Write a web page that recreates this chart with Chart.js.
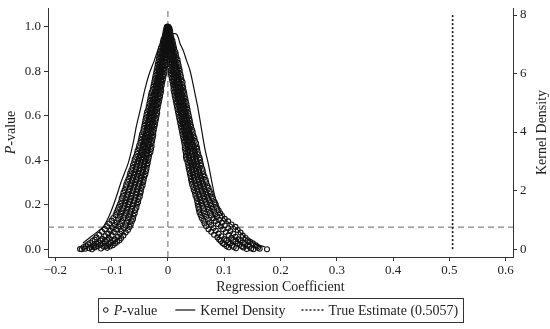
<!DOCTYPE html>
<html>
<head>
<meta charset="utf-8">
<script src="https://cdn.jsdelivr.net/npm/chart.js@4.4.1/dist/chart.umd.min.js"></script>
<style>
  html, body { margin: 0; padding: 0; background: #fff; }
  #wrap { width: 550px; height: 329px; }
</style>
</head>
<body>
<div id="wrap"><canvas id="chart" width="550" height="329"></canvas></div>
<script>
// P-value of each placebo regression: [coefficient, p-value]
const pvalPoints = [
  // left branch
  [-0.002, 0.998], [-0.001, 1.000], [0.000, 0.995],
  [-0.004, 0.978], [-0.003, 0.971], [-0.001, 0.980], [0.000, 0.969],
  [-0.006, 0.953], [-0.004, 0.946], [-0.003, 0.955], [-0.001, 0.944], [0.000, 0.951],
  [-0.009, 0.929], [-0.007, 0.921], [-0.005, 0.927], [-0.003, 0.919], [-0.001, 0.924],
  [-0.012, 0.904], [-0.009, 0.896], [-0.007, 0.903], [-0.004, 0.894], [-0.002, 0.901],
  [-0.014, 0.879], [-0.011, 0.871], [-0.008, 0.877], [-0.006, 0.870], [-0.003, 0.876],
  [-0.016, 0.854], [-0.013, 0.846], [-0.010, 0.852], [-0.007, 0.845], [-0.004, 0.851],
  [-0.018, 0.829], [-0.015, 0.821], [-0.011, 0.827], [-0.008, 0.820], [-0.005, 0.826],
  [-0.020, 0.804], [-0.016, 0.796], [-0.013, 0.803], [-0.010, 0.795], [-0.006, 0.801],
  [-0.022, 0.779], [-0.018, 0.771], [-0.015, 0.778], [-0.012, 0.770], [-0.008, 0.776],
  [-0.024, 0.754], [-0.020, 0.746], [-0.017, 0.752], [-0.013, 0.745], [-0.010, 0.751],
  [-0.026, 0.729], [-0.022, 0.721], [-0.019, 0.727], [-0.015, 0.720], [-0.012, 0.726],
  [-0.029, 0.704], [-0.025, 0.696], [-0.021, 0.703], [-0.017, 0.695], [-0.013, 0.701],
  [-0.031, 0.679], [-0.027, 0.671], [-0.023, 0.678], [-0.019, 0.670], [-0.015, 0.676],
  [-0.033, 0.654], [-0.029, 0.646], [-0.025, 0.652], [-0.021, 0.645], [-0.017, 0.651],
  [-0.035, 0.629], [-0.031, 0.621], [-0.027, 0.627], [-0.023, 0.620], [-0.019, 0.626],
  [-0.038, 0.604], [-0.033, 0.596], [-0.029, 0.603], [-0.025, 0.595], [-0.020, 0.601],
  [-0.040, 0.579], [-0.035, 0.571], [-0.031, 0.578], [-0.027, 0.570], [-0.022, 0.576],
  [-0.042, 0.554], [-0.037, 0.546], [-0.033, 0.552], [-0.029, 0.545], [-0.024, 0.551],
  [-0.044, 0.529], [-0.039, 0.521], [-0.035, 0.527], [-0.030, 0.520], [-0.026, 0.526],
  [-0.047, 0.504], [-0.042, 0.496], [-0.037, 0.503], [-0.032, 0.495], [-0.027, 0.501],
  [-0.049, 0.479], [-0.044, 0.471], [-0.039, 0.478], [-0.034, 0.470], [-0.029, 0.476],
  [-0.052, 0.454], [-0.046, 0.446], [-0.041, 0.452], [-0.036, 0.445], [-0.030, 0.451],
  [-0.055, 0.429], [-0.049, 0.421], [-0.044, 0.427], [-0.038, 0.420], [-0.033, 0.426],
  [-0.059, 0.404], [-0.053, 0.396], [-0.047, 0.403], [-0.041, 0.395], [-0.035, 0.401],
  [-0.062, 0.379], [-0.056, 0.371], [-0.049, 0.378], [-0.043, 0.370], [-0.037, 0.376],
  [-0.065, 0.354], [-0.058, 0.346], [-0.052, 0.352], [-0.045, 0.345], [-0.039, 0.351],
  [-0.068, 0.329], [-0.062, 0.321], [-0.055, 0.327], [-0.048, 0.320], [-0.042, 0.326],
  [-0.072, 0.304], [-0.065, 0.296], [-0.058, 0.303], [-0.051, 0.295], [-0.044, 0.301],
  [-0.075, 0.279], [-0.068, 0.271], [-0.061, 0.278], [-0.054, 0.270], [-0.047, 0.276],
  [-0.079, 0.254], [-0.071, 0.246], [-0.064, 0.252], [-0.057, 0.245], [-0.049, 0.251],
  [-0.082, 0.229], [-0.074, 0.221], [-0.067, 0.227], [-0.060, 0.220], [-0.052, 0.226],
  [-0.085, 0.204], [-0.077, 0.196], [-0.070, 0.203], [-0.063, 0.195], [-0.055, 0.201],
  [-0.089, 0.179], [-0.081, 0.171], [-0.073, 0.178], [-0.066, 0.170], [-0.058, 0.176],
  [-0.093, 0.154], [-0.085, 0.146], [-0.077, 0.152], [-0.069, 0.145], [-0.061, 0.151],
  [-0.100, 0.129], [-0.091, 0.121], [-0.082, 0.127], [-0.073, 0.120], [-0.064, 0.126],
  [-0.108, 0.104], [-0.098, 0.096], [-0.088, 0.103], [-0.078, 0.095], [-0.068, 0.101],
  [-0.117, 0.079], [-0.106, 0.071], [-0.096, 0.078], [-0.085, 0.070], [-0.075, 0.076],
  [-0.127, 0.054], [-0.116, 0.046], [-0.105, 0.052], [-0.094, 0.045], [-0.083, 0.051],
  [-0.134, 0.038], [-0.123, 0.031], [-0.112, 0.036], [-0.101, 0.030], [-0.090, 0.034],
  [-0.142, 0.023], [-0.131, 0.017], [-0.120, 0.021], [-0.109, 0.016], [-0.098, 0.019],
  [-0.150, 0.010], [-0.140, 0.005], [-0.130, 0.009], [-0.119, 0.004], [-0.108, 0.007],
  [-0.156, 0.002], [-0.153, 0.001], [-0.147, 0.003], [-0.135, 0.001],
  // left branch, in-between rows
  [-0.003, 0.989], [-0.001, 0.985], [0.000, 0.990],
  [-0.005, 0.965], [-0.003, 0.958], [-0.002, 0.966], [0.000, 0.960],
  [-0.008, 0.941], [-0.006, 0.934], [-0.004, 0.940], [-0.002, 0.932], [0.000, 0.937],
  [-0.010, 0.916], [-0.008, 0.909], [-0.006, 0.914], [-0.004, 0.907], [-0.001, 0.912],
  [-0.013, 0.891], [-0.010, 0.884], [-0.008, 0.890], [-0.005, 0.882], [-0.002, 0.887],
  [-0.015, 0.866], [-0.012, 0.859], [-0.009, 0.864], [-0.006, 0.857], [-0.003, 0.862],
  [-0.017, 0.841], [-0.014, 0.834], [-0.011, 0.840], [-0.008, 0.832], [-0.005, 0.837],
  [-0.019, 0.816], [-0.016, 0.809], [-0.012, 0.814], [-0.009, 0.807], [-0.006, 0.812],
  [-0.021, 0.791], [-0.017, 0.784], [-0.014, 0.790], [-0.011, 0.782], [-0.007, 0.787],
  [-0.023, 0.766], [-0.019, 0.759], [-0.016, 0.764], [-0.012, 0.757], [-0.009, 0.762],
  [-0.025, 0.741], [-0.021, 0.734], [-0.018, 0.740], [-0.014, 0.732], [-0.011, 0.737],
  [-0.027, 0.716], [-0.023, 0.709], [-0.020, 0.714], [-0.016, 0.707], [-0.012, 0.712],
  [-0.030, 0.691], [-0.026, 0.684], [-0.022, 0.690], [-0.018, 0.682], [-0.014, 0.687],
  [-0.032, 0.666], [-0.028, 0.659], [-0.024, 0.664], [-0.020, 0.657], [-0.016, 0.662],
  [-0.034, 0.641], [-0.030, 0.634], [-0.026, 0.640], [-0.022, 0.632], [-0.018, 0.637],
  [-0.037, 0.616], [-0.032, 0.609], [-0.028, 0.614], [-0.024, 0.607], [-0.019, 0.612],
  [-0.039, 0.591], [-0.034, 0.584], [-0.030, 0.590], [-0.026, 0.582], [-0.021, 0.587],
  [-0.041, 0.566], [-0.036, 0.559], [-0.032, 0.564], [-0.028, 0.557], [-0.023, 0.562],
  [-0.043, 0.541], [-0.038, 0.534], [-0.034, 0.540], [-0.029, 0.532], [-0.025, 0.537],
  [-0.046, 0.516], [-0.041, 0.509], [-0.036, 0.514], [-0.031, 0.507], [-0.026, 0.512],
  [-0.048, 0.491], [-0.043, 0.484], [-0.038, 0.490], [-0.033, 0.482], [-0.028, 0.487],
  [-0.051, 0.466], [-0.045, 0.459], [-0.040, 0.464], [-0.035, 0.457], [-0.029, 0.462],
  [-0.054, 0.441], [-0.048, 0.434], [-0.042, 0.440], [-0.037, 0.432], [-0.031, 0.437],
  [-0.057, 0.416], [-0.051, 0.409], [-0.045, 0.414], [-0.039, 0.407], [-0.034, 0.412],
  [-0.060, 0.391], [-0.054, 0.384], [-0.048, 0.390], [-0.042, 0.382], [-0.036, 0.387],
  [-0.063, 0.366], [-0.057, 0.359], [-0.050, 0.364], [-0.044, 0.357], [-0.038, 0.362],
  [-0.067, 0.341], [-0.060, 0.334], [-0.053, 0.340], [-0.047, 0.332], [-0.040, 0.337],
  [-0.070, 0.316], [-0.063, 0.309], [-0.056, 0.314], [-0.049, 0.307], [-0.043, 0.312],
  [-0.074, 0.291], [-0.066, 0.284], [-0.059, 0.290], [-0.052, 0.282], [-0.045, 0.287],
  [-0.077, 0.266], [-0.070, 0.259], [-0.062, 0.264], [-0.055, 0.257], [-0.048, 0.262],
  [-0.080, 0.241], [-0.073, 0.234], [-0.065, 0.240], [-0.058, 0.232], [-0.050, 0.237],
  [-0.083, 0.216], [-0.076, 0.209], [-0.068, 0.214], [-0.061, 0.207], [-0.053, 0.212],
  [-0.087, 0.191], [-0.079, 0.184], [-0.071, 0.190], [-0.064, 0.182], [-0.056, 0.187],
  [-0.091, 0.166], [-0.083, 0.159], [-0.075, 0.164], [-0.067, 0.157], [-0.059, 0.162],
  [-0.097, 0.141], [-0.088, 0.134], [-0.079, 0.140], [-0.071, 0.132], [-0.062, 0.137],
  [-0.104, 0.116], [-0.094, 0.109], [-0.085, 0.114], [-0.075, 0.107], [-0.066, 0.112],
  [-0.112, 0.091], [-0.102, 0.084], [-0.092, 0.090], [-0.082, 0.082], [-0.071, 0.087],
  [-0.122, 0.066], [-0.111, 0.059], [-0.100, 0.064], [-0.089, 0.057], [-0.079, 0.062],
  [-0.130, 0.044], [-0.119, 0.040], [-0.108, 0.043], [-0.097, 0.038], [-0.086, 0.041],
  [-0.138, 0.029], [-0.127, 0.025], [-0.116, 0.028], [-0.105, 0.024], [-0.094, 0.027],
  [-0.146, 0.015], [-0.136, 0.011], [-0.125, 0.014], [-0.114, 0.012], [-0.103, 0.013],
  // right branch
  [0.001, 0.999], [0.002, 0.993],
  [0.000, 0.977], [0.002, 0.971], [0.004, 0.979],
  [0.000, 0.953], [0.002, 0.946], [0.003, 0.955], [0.005, 0.944], [0.006, 0.951],
  [0.001, 0.929], [0.003, 0.921], [0.005, 0.927], [0.007, 0.919], [0.009, 0.924],
  [0.001, 0.904], [0.004, 0.896], [0.006, 0.903], [0.009, 0.894], [0.011, 0.901],
  [0.002, 0.879], [0.005, 0.871], [0.008, 0.877], [0.011, 0.870], [0.014, 0.876],
  [0.003, 0.854], [0.007, 0.846], [0.010, 0.852], [0.013, 0.845], [0.017, 0.851],
  [0.004, 0.829], [0.008, 0.821], [0.011, 0.827], [0.015, 0.820], [0.019, 0.826],
  [0.005, 0.804], [0.009, 0.796], [0.013, 0.803], [0.017, 0.795], [0.021, 0.801],
  [0.006, 0.779], [0.011, 0.771], [0.015, 0.778], [0.019, 0.770], [0.023, 0.776],
  [0.008, 0.754], [0.012, 0.746], [0.017, 0.752], [0.021, 0.745], [0.026, 0.751],
  [0.010, 0.729], [0.014, 0.721], [0.018, 0.727], [0.023, 0.720], [0.027, 0.726],
  [0.011, 0.704], [0.016, 0.696], [0.020, 0.703], [0.025, 0.695], [0.029, 0.701],
  [0.013, 0.679], [0.018, 0.671], [0.022, 0.678], [0.027, 0.670], [0.031, 0.676],
  [0.015, 0.654], [0.020, 0.646], [0.024, 0.652], [0.029, 0.645], [0.033, 0.651],
  [0.017, 0.629], [0.022, 0.621], [0.026, 0.627], [0.031, 0.620], [0.035, 0.626],
  [0.019, 0.604], [0.024, 0.596], [0.028, 0.603], [0.033, 0.595], [0.037, 0.601],
  [0.021, 0.579], [0.026, 0.571], [0.030, 0.578], [0.035, 0.570], [0.039, 0.576],
  [0.023, 0.554], [0.028, 0.546], [0.032, 0.552], [0.037, 0.545], [0.041, 0.551],
  [0.025, 0.529], [0.030, 0.521], [0.034, 0.527], [0.039, 0.520], [0.044, 0.526],
  [0.027, 0.504], [0.032, 0.496], [0.037, 0.503], [0.042, 0.495], [0.047, 0.501],
  [0.029, 0.479], [0.034, 0.471], [0.039, 0.478], [0.044, 0.470], [0.050, 0.476],
  [0.030, 0.454], [0.036, 0.446], [0.041, 0.452], [0.047, 0.445], [0.052, 0.451],
  [0.032, 0.429], [0.037, 0.421], [0.043, 0.427], [0.049, 0.420], [0.054, 0.426],
  [0.033, 0.404], [0.039, 0.396], [0.045, 0.403], [0.051, 0.395], [0.057, 0.401],
  [0.036, 0.379], [0.042, 0.371], [0.047, 0.378], [0.053, 0.370], [0.059, 0.376],
  [0.038, 0.354], [0.044, 0.346], [0.050, 0.352], [0.056, 0.345], [0.062, 0.351],
  [0.040, 0.329], [0.046, 0.321], [0.052, 0.327], [0.059, 0.320], [0.065, 0.326],
  [0.042, 0.304], [0.049, 0.296], [0.055, 0.303], [0.062, 0.295], [0.068, 0.301],
  [0.045, 0.279], [0.052, 0.271], [0.058, 0.278], [0.065, 0.270], [0.072, 0.276],
  [0.048, 0.254], [0.055, 0.246], [0.062, 0.252], [0.069, 0.245], [0.076, 0.251],
  [0.051, 0.229], [0.058, 0.221], [0.065, 0.227], [0.073, 0.220], [0.080, 0.226],
  [0.053, 0.204], [0.061, 0.196], [0.069, 0.203], [0.077, 0.195], [0.085, 0.201],
  [0.055, 0.179], [0.064, 0.171], [0.073, 0.178], [0.082, 0.170], [0.090, 0.176],
  [0.058, 0.154], [0.068, 0.146], [0.077, 0.152], [0.087, 0.145], [0.096, 0.151],
  [0.063, 0.129], [0.074, 0.121], [0.085, 0.127], [0.096, 0.120], [0.107, 0.126],
  [0.068, 0.104], [0.081, 0.096], [0.094, 0.103], [0.107, 0.095], [0.120, 0.101],
  [0.077, 0.079], [0.090, 0.071], [0.103, 0.078], [0.116, 0.070], [0.129, 0.076],
  [0.088, 0.054], [0.100, 0.046], [0.113, 0.052], [0.125, 0.045], [0.138, 0.051],
  [0.094, 0.038], [0.107, 0.031], [0.120, 0.036], [0.133, 0.030], [0.146, 0.034],
  [0.100, 0.023], [0.114, 0.017], [0.128, 0.021], [0.142, 0.016], [0.156, 0.019],
  [0.108, 0.010], [0.121, 0.005], [0.134, 0.009], [0.148, 0.004], [0.160, 0.007],
  [0.140, 0.002], [0.152, 0.001], [0.163, 0.003], [0.176, 0.001],
  // right branch, in-between rows
  [0.000, 0.989], [0.001, 0.985], [0.003, 0.990],
  [0.000, 0.965], [0.002, 0.958], [0.003, 0.966], [0.005, 0.960],
  [0.000, 0.941], [0.002, 0.934], [0.004, 0.940], [0.006, 0.932], [0.008, 0.937],
  [0.001, 0.916], [0.003, 0.909], [0.006, 0.914], [0.008, 0.907], [0.010, 0.912],
  [0.001, 0.891], [0.004, 0.884], [0.007, 0.890], [0.010, 0.882], [0.013, 0.887],
  [0.002, 0.866], [0.006, 0.859], [0.009, 0.864], [0.012, 0.857], [0.015, 0.862],
  [0.003, 0.841], [0.007, 0.834], [0.011, 0.840], [0.014, 0.832], [0.018, 0.837],
  [0.004, 0.816], [0.008, 0.809], [0.012, 0.814], [0.016, 0.807], [0.020, 0.812],
  [0.005, 0.791], [0.010, 0.784], [0.014, 0.790], [0.018, 0.782], [0.022, 0.787],
  [0.007, 0.766], [0.011, 0.759], [0.016, 0.764], [0.020, 0.757], [0.024, 0.762],
  [0.009, 0.741], [0.013, 0.734], [0.017, 0.740], [0.022, 0.732], [0.026, 0.737],
  [0.010, 0.716], [0.015, 0.709], [0.019, 0.714], [0.024, 0.707], [0.028, 0.712],
  [0.012, 0.691], [0.017, 0.684], [0.021, 0.690], [0.026, 0.682], [0.030, 0.687],
  [0.014, 0.666], [0.019, 0.659], [0.023, 0.664], [0.028, 0.657], [0.032, 0.662],
  [0.016, 0.641], [0.021, 0.634], [0.025, 0.640], [0.030, 0.632], [0.034, 0.637],
  [0.018, 0.616], [0.023, 0.609], [0.027, 0.614], [0.032, 0.607], [0.036, 0.612],
  [0.020, 0.591], [0.025, 0.584], [0.029, 0.590], [0.034, 0.582], [0.038, 0.587],
  [0.022, 0.566], [0.027, 0.559], [0.031, 0.564], [0.036, 0.557], [0.040, 0.562],
  [0.024, 0.541], [0.029, 0.534], [0.033, 0.540], [0.038, 0.532], [0.043, 0.537],
  [0.026, 0.516], [0.031, 0.509], [0.036, 0.514], [0.041, 0.507], [0.045, 0.512],
  [0.028, 0.491], [0.033, 0.484], [0.038, 0.490], [0.043, 0.482], [0.048, 0.487],
  [0.030, 0.466], [0.035, 0.459], [0.040, 0.464], [0.046, 0.457], [0.051, 0.462],
  [0.031, 0.441], [0.036, 0.434], [0.042, 0.440], [0.048, 0.432], [0.053, 0.437],
  [0.032, 0.416], [0.038, 0.409], [0.044, 0.414], [0.050, 0.407], [0.056, 0.412],
  [0.035, 0.391], [0.041, 0.384], [0.046, 0.390], [0.052, 0.382], [0.058, 0.387],
  [0.037, 0.366], [0.043, 0.359], [0.049, 0.364], [0.055, 0.357], [0.061, 0.362],
  [0.039, 0.341], [0.045, 0.334], [0.051, 0.340], [0.057, 0.332], [0.063, 0.337],
  [0.041, 0.316], [0.047, 0.309], [0.054, 0.314], [0.060, 0.307], [0.067, 0.312],
  [0.043, 0.291], [0.050, 0.284], [0.057, 0.290], [0.063, 0.282], [0.070, 0.287],
  [0.046, 0.266], [0.053, 0.259], [0.060, 0.264], [0.067, 0.257], [0.074, 0.262],
  [0.049, 0.241], [0.056, 0.234], [0.064, 0.240], [0.071, 0.232], [0.078, 0.237],
  [0.052, 0.216], [0.060, 0.209], [0.067, 0.214], [0.075, 0.207], [0.083, 0.212],
  [0.054, 0.191], [0.063, 0.184], [0.071, 0.190], [0.079, 0.182], [0.087, 0.187],
  [0.056, 0.166], [0.066, 0.159], [0.075, 0.164], [0.084, 0.157], [0.093, 0.162],
  [0.060, 0.141], [0.071, 0.134], [0.081, 0.140], [0.091, 0.132], [0.101, 0.137],
  [0.065, 0.116], [0.077, 0.109], [0.089, 0.114], [0.101, 0.107], [0.113, 0.112],
  [0.072, 0.091], [0.085, 0.084], [0.098, 0.090], [0.111, 0.082], [0.124, 0.087],
  [0.082, 0.066], [0.095, 0.059], [0.108, 0.064], [0.120, 0.057], [0.133, 0.062],
  [0.091, 0.044], [0.104, 0.040], [0.116, 0.043], [0.129, 0.038], [0.142, 0.041],
  [0.097, 0.029], [0.110, 0.025], [0.124, 0.028], [0.137, 0.024], [0.151, 0.027],
  [0.104, 0.015], [0.117, 0.011], [0.131, 0.014], [0.145, 0.012], [0.158, 0.013]
];

// kernel density of the placebo coefficients (right axis)
const kernelX = [-0.151, -0.135, -0.115, -0.104, -0.094, -0.083, -0.0705, -0.062, -0.056, -0.048,
  -0.041, -0.033, -0.025, -0.018, -0.011, -0.007, 0.015, 0.022, 0.027, 0.033, 0.039, 0.044,
  0.048, 0.053, 0.057, 0.061, 0.066, 0.0716, 0.078, 0.0835, 0.090, 0.098, 0.108, 0.119,
  0.131, 0.143, 0.158, 0.172];
const kernelY = [0.21, 0.45, 0.76, 1.15, 1.65, 2.3, 2.94, 3.6, 4.2, 4.85,
  5.45, 6.0, 6.4, 6.8, 7.15, 7.33, 7.35, 7.0, 6.8, 6.45, 6.12, 5.7,
  5.32, 4.85, 4.41, 3.95, 3.4, 2.93, 2.3, 1.79, 1.4, 1.1, 0.9, 0.76,
  0.52, 0.31, 0.16, 0.08];

const trueEstimate = 0.5057;
const trueEstRange = [0, 8];
const pCutoff = 0.1;

const xRange = [-0.213, 0.613];
const pRange = [-0.034, 1.083];
const densRange = [-0.27, 8.24];

const xTitle = 'Regression Coefficient';
const rightTitle = 'Kernel Density';
const legendLabels = ['P-value', 'Kernel Density', 'True Estimate (0.5057)'];

const SERIF = "'Liberation Serif', 'Times New Roman', serif";
const INK = '#222';

function fmtMinus(s) { return s.replace('-', '\u2212'); }

function drawItalicP(ctx, text, x, y, size) {
  // first letter italic, rest upright
  ctx.font = 'italic ' + size + 'px ' + SERIF;
  ctx.fillText(text[0], x, y);
  const w = ctx.measureText(text[0]).width;
  ctx.font = size + 'px ' + SERIF;
  ctx.fillText(text.slice(1), x + w, y);
}

function italicPWidth(ctx, text, size) {
  ctx.font = 'italic ' + size + 'px ' + SERIF;
  const w = ctx.measureText(text[0]).width;
  ctx.font = size + 'px ' + SERIF;
  return w + ctx.measureText(text.slice(1)).width;
}

function drawLegend(ctx, cx, cy) {
  const size = 14;
  const w0 = italicPWidth(ctx, legendLabels[0], size);
  ctx.font = size + 'px ' + SERIF;
  const w1 = ctx.measureText(legendLabels[1]).width;
  const w2 = ctx.measureText(legendLabels[2]).width;
  const pad = 5;
  const total = pad + 6 + 5 + w0 + 18 + 20 + 5 + w1 + 16 + 22 + 5 + w2 + pad;
  let x = cx - total / 2;
  const boxH = 24;

  ctx.strokeStyle = '#333';
  ctx.lineWidth = 1;
  ctx.strokeRect(Math.round(x) + 0.5, Math.round(cy - boxH / 2) + 0.5, Math.round(total), boxH);

  ctx.textAlign = 'left';
  ctx.textBaseline = 'middle';
  ctx.fillStyle = INK;
  x += pad;
  // hollow circle
  ctx.beginPath();
  ctx.arc(x + 3, cy, 2.3, 0, Math.PI * 2);
  ctx.lineWidth = 1;
  ctx.strokeStyle = '#111';
  ctx.stroke();
  x += 6 + 5;
  drawItalicP(ctx, legendLabels[0], x, cy + 1, size);
  x += w0 + 18;
  // solid line
  ctx.beginPath();
  ctx.moveTo(x, cy);
  ctx.lineTo(x + 20, cy);
  ctx.lineWidth = 1.2;
  ctx.stroke();
  x += 20 + 5;
  ctx.font = size + 'px ' + SERIF;
  ctx.fillText(legendLabels[1], x, cy + 1);
  x += w1 + 16;
  // dotted line
  ctx.beginPath();
  ctx.setLineDash([2, 2]);
  ctx.moveTo(x, cy);
  ctx.lineTo(x + 22, cy);
  ctx.lineWidth = 1.4;
  ctx.stroke();
  ctx.setLineDash([]);
  x += 22 + 5;
  ctx.fillText(legendLabels[2], x, cy + 1);
}

const extrasPlugin = {
  id: 'extras',
  afterDraw(chart) {
    const ctx = chart.ctx;
    const area = chart.chartArea;
    const midY = (area.top + area.bottom) / 2;
    ctx.save();
    ctx.fillStyle = INK;
    ctx.textBaseline = 'middle';
    ctx.textAlign = 'center';
    ctx.font = '14px ' + SERIF;
    ctx.fillText(xTitle, (area.left + area.right) / 2, 287);

    // right title reads bottom to top, like the left one
    ctx.save();
    ctx.translate(542, midY);
    ctx.rotate(-Math.PI / 2);
    ctx.fillText(rightTitle, 0, 0);
    ctx.restore();

    ctx.save();
    ctx.translate(11, midY);
    ctx.rotate(-Math.PI / 2);
    ctx.textAlign = 'left';
    const wl = italicPWidth(ctx, legendLabels[0], 14);
    drawItalicP(ctx, legendLabels[0], -wl / 2, 0, 14);
    ctx.restore();

    drawLegend(ctx, (area.left + area.right) / 2, 310);
    ctx.restore();
  }
};

const tickFont = { family: SERIF, size: 13 };
const gridOpts = { drawOnChartArea: false, drawTicks: true, tickLength: 4, color: '#333' };
const borderOpts = { display: true, color: '#333', width: 1 };

const ctx = document.getElementById('chart').getContext('2d');
const chart = new Chart(ctx, {
  type: 'scatter',
  data: {
    datasets: [
      {
        label: 'P-value',
        data: pvalPoints.map(([x, p]) => ({ x: x, y: p })),
        yAxisID: 'y',
        pointStyle: 'circle',
        pointRadius: 2.5,
        pointBorderWidth: 1.1,
        borderColor: '#111',
        backgroundColor: 'rgba(255,255,255,0)',
        order: 1
      },
      {
        label: 'Kernel Density',
        data: kernelX.map((x, i) => ({ x: x, y: kernelY[i] })),
        yAxisID: 'y2',
        showLine: true,
        pointRadius: 0,
        borderColor: '#111',
        borderWidth: 1.2,
        tension: 0.25,
        order: 2
      },
      {
        label: 'True Estimate',
        data: trueEstRange.map(v => ({ x: trueEstimate, y: v })),
        yAxisID: 'y2',
        showLine: true,
        pointRadius: 0,
        borderColor: '#111',
        borderWidth: 1.6,
        borderDash: [2, 2],
        order: 3
      },
      {
        label: 'zero',
        data: pRange.map(v => ({ x: 0, y: v })),
        yAxisID: 'y',
        showLine: true,
        pointRadius: 0,
        borderColor: '#666',
        borderWidth: 1,
        borderDash: [6, 4],
        order: 4
      },
      {
        label: 'cutoff',
        data: xRange.map(v => ({ x: v, y: pCutoff })),
        yAxisID: 'y',
        showLine: true,
        pointRadius: 0,
        borderColor: '#666',
        borderWidth: 1,
        borderDash: [6, 4],
        order: 5
      }
    ]
  },
  options: {
    responsive: false,
    animation: false,
    devicePixelRatio: 1,
    layout: { padding: { top: 8, bottom: 36, left: 0, right: 0 } },
    plugins: {
      legend: { display: false },
      tooltip: { enabled: false }
    },
    scales: {
      x: {
        type: 'linear',
        position: 'bottom',
        min: xRange[0],
        max: xRange[1],
        afterFit(s) { s.height = 36; s.paddingLeft = 0; s.paddingRight = 0; },
        ticks: {
          stepSize: 0.1,
          includeBounds: false,
          padding: 2,
          maxRotation: 0,
          autoSkip: false,
          color: INK,
          font: tickFont,
          callback: v => Math.abs(v) < 1e-9 ? '0' : fmtMinus(v.toFixed(1))
        },
        grid: gridOpts,
        border: borderOpts
      },
      y: {
        type: 'linear',
        position: 'left',
        min: pRange[0],
        max: pRange[1],
        afterFit(s) { s.width = 48; s.paddingTop = 0; s.paddingBottom = 0; },
        ticks: {
          stepSize: 0.2,
          includeBounds: false,
          padding: 3,
          color: INK,
          font: tickFont,
          callback: v => Math.abs(v) < 1e-9 ? '0.0' : v.toFixed(1)
        },
        grid: gridOpts,
        border: borderOpts
      },
      y2: {
        type: 'linear',
        position: 'right',
        min: densRange[0],
        max: densRange[1],
        afterFit(s) { s.width = 37; s.paddingTop = 0; s.paddingBottom = 0; },
        ticks: {
          stepSize: 2,
          includeBounds: false,
          padding: 3,
          color: INK,
          font: tickFont,
          callback: v => String(Math.round(v))
        },
        grid: gridOpts,
        border: borderOpts
      }
    }
  },
  plugins: [extrasPlugin]
});
</script>
</body>
</html>
